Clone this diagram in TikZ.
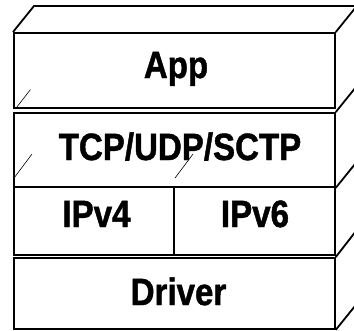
\documentclass[tikz,border=0pt]{standalone}
\usepackage{fontspec}
\usetikzlibrary{calc}
\newfontfamily\labfont{Liberation Sans Bold}[FakeStretch=0.87,FakeBold=1.2]
\begin{document}
\begin{tikzpicture}[x=1pt,y=-1pt,
  edge/.style={line width=1.8pt,line join=miter},
  ghost/.style={line width=0.6pt},
  layer/.style={draw,line width=1.8pt,inner sep=0pt,anchor=north west},
  lab/.style={anchor=base,font=\labfont\fontsize{38}{40}\selectfont,inner sep=0pt}]
\useasboundingbox (0,0) rectangle (354,330);
\clip (0,0) rectangle (354,330);
% layer boxes
\node[layer,minimum width=321pt,minimum height=75pt] (app) at (13,32) {};
\node[layer,minimum width=321pt,minimum height=74pt] (tcp) at (13,112) {};
\node[layer,minimum width=160pt,minimum height=68pt] (ipv4) at (13,186) {};
\node[layer,minimum width=161pt,minimum height=68pt] (ipv6) at (173,186) {};
\node[layer,minimum width=321pt,minimum height=71pt] (drv) at (13,257) {};
% 3D top face and right side edges
\draw[edge] (app.north west) -- ++(21,-26) coordinate (tl) -- ++(330,0);
\draw[edge] (app.north east) -- ++(21,-26);
\draw[edge] (tcp.north east) -- ++(21,-26);
\draw[edge] (tcp.south east) -- ++(21,-26);
\draw[edge] (drv.north east) -- ++(21,-27);
\draw[edge] (drv.south east) -- ++(21,-26);
% faint see-through edges
\draw[ghost] ($(tcp.north west)+(3.5,-4.5)$) -- ++(14,-18);
\draw[ghost] ($(ipv4.north west)+(1,-8)$) -- ++(18,-24);
\draw[ghost] ($(ipv6.north west)+(2,-8)$) -- ++(18,-24);
% labels
\node[lab] (tapp) at (176,78) {App};
\node[lab] (ttcp) at (180,160) {TCP/UDP/SCTP};
\node[lab] (tv4) at (96.5,227) {IPv4};
\node[lab] (tv6) at (255,227) {IPv6};
\node[lab] (tdrv) at (178.5,305) {Driver};
\end{tikzpicture}
\end{document}
